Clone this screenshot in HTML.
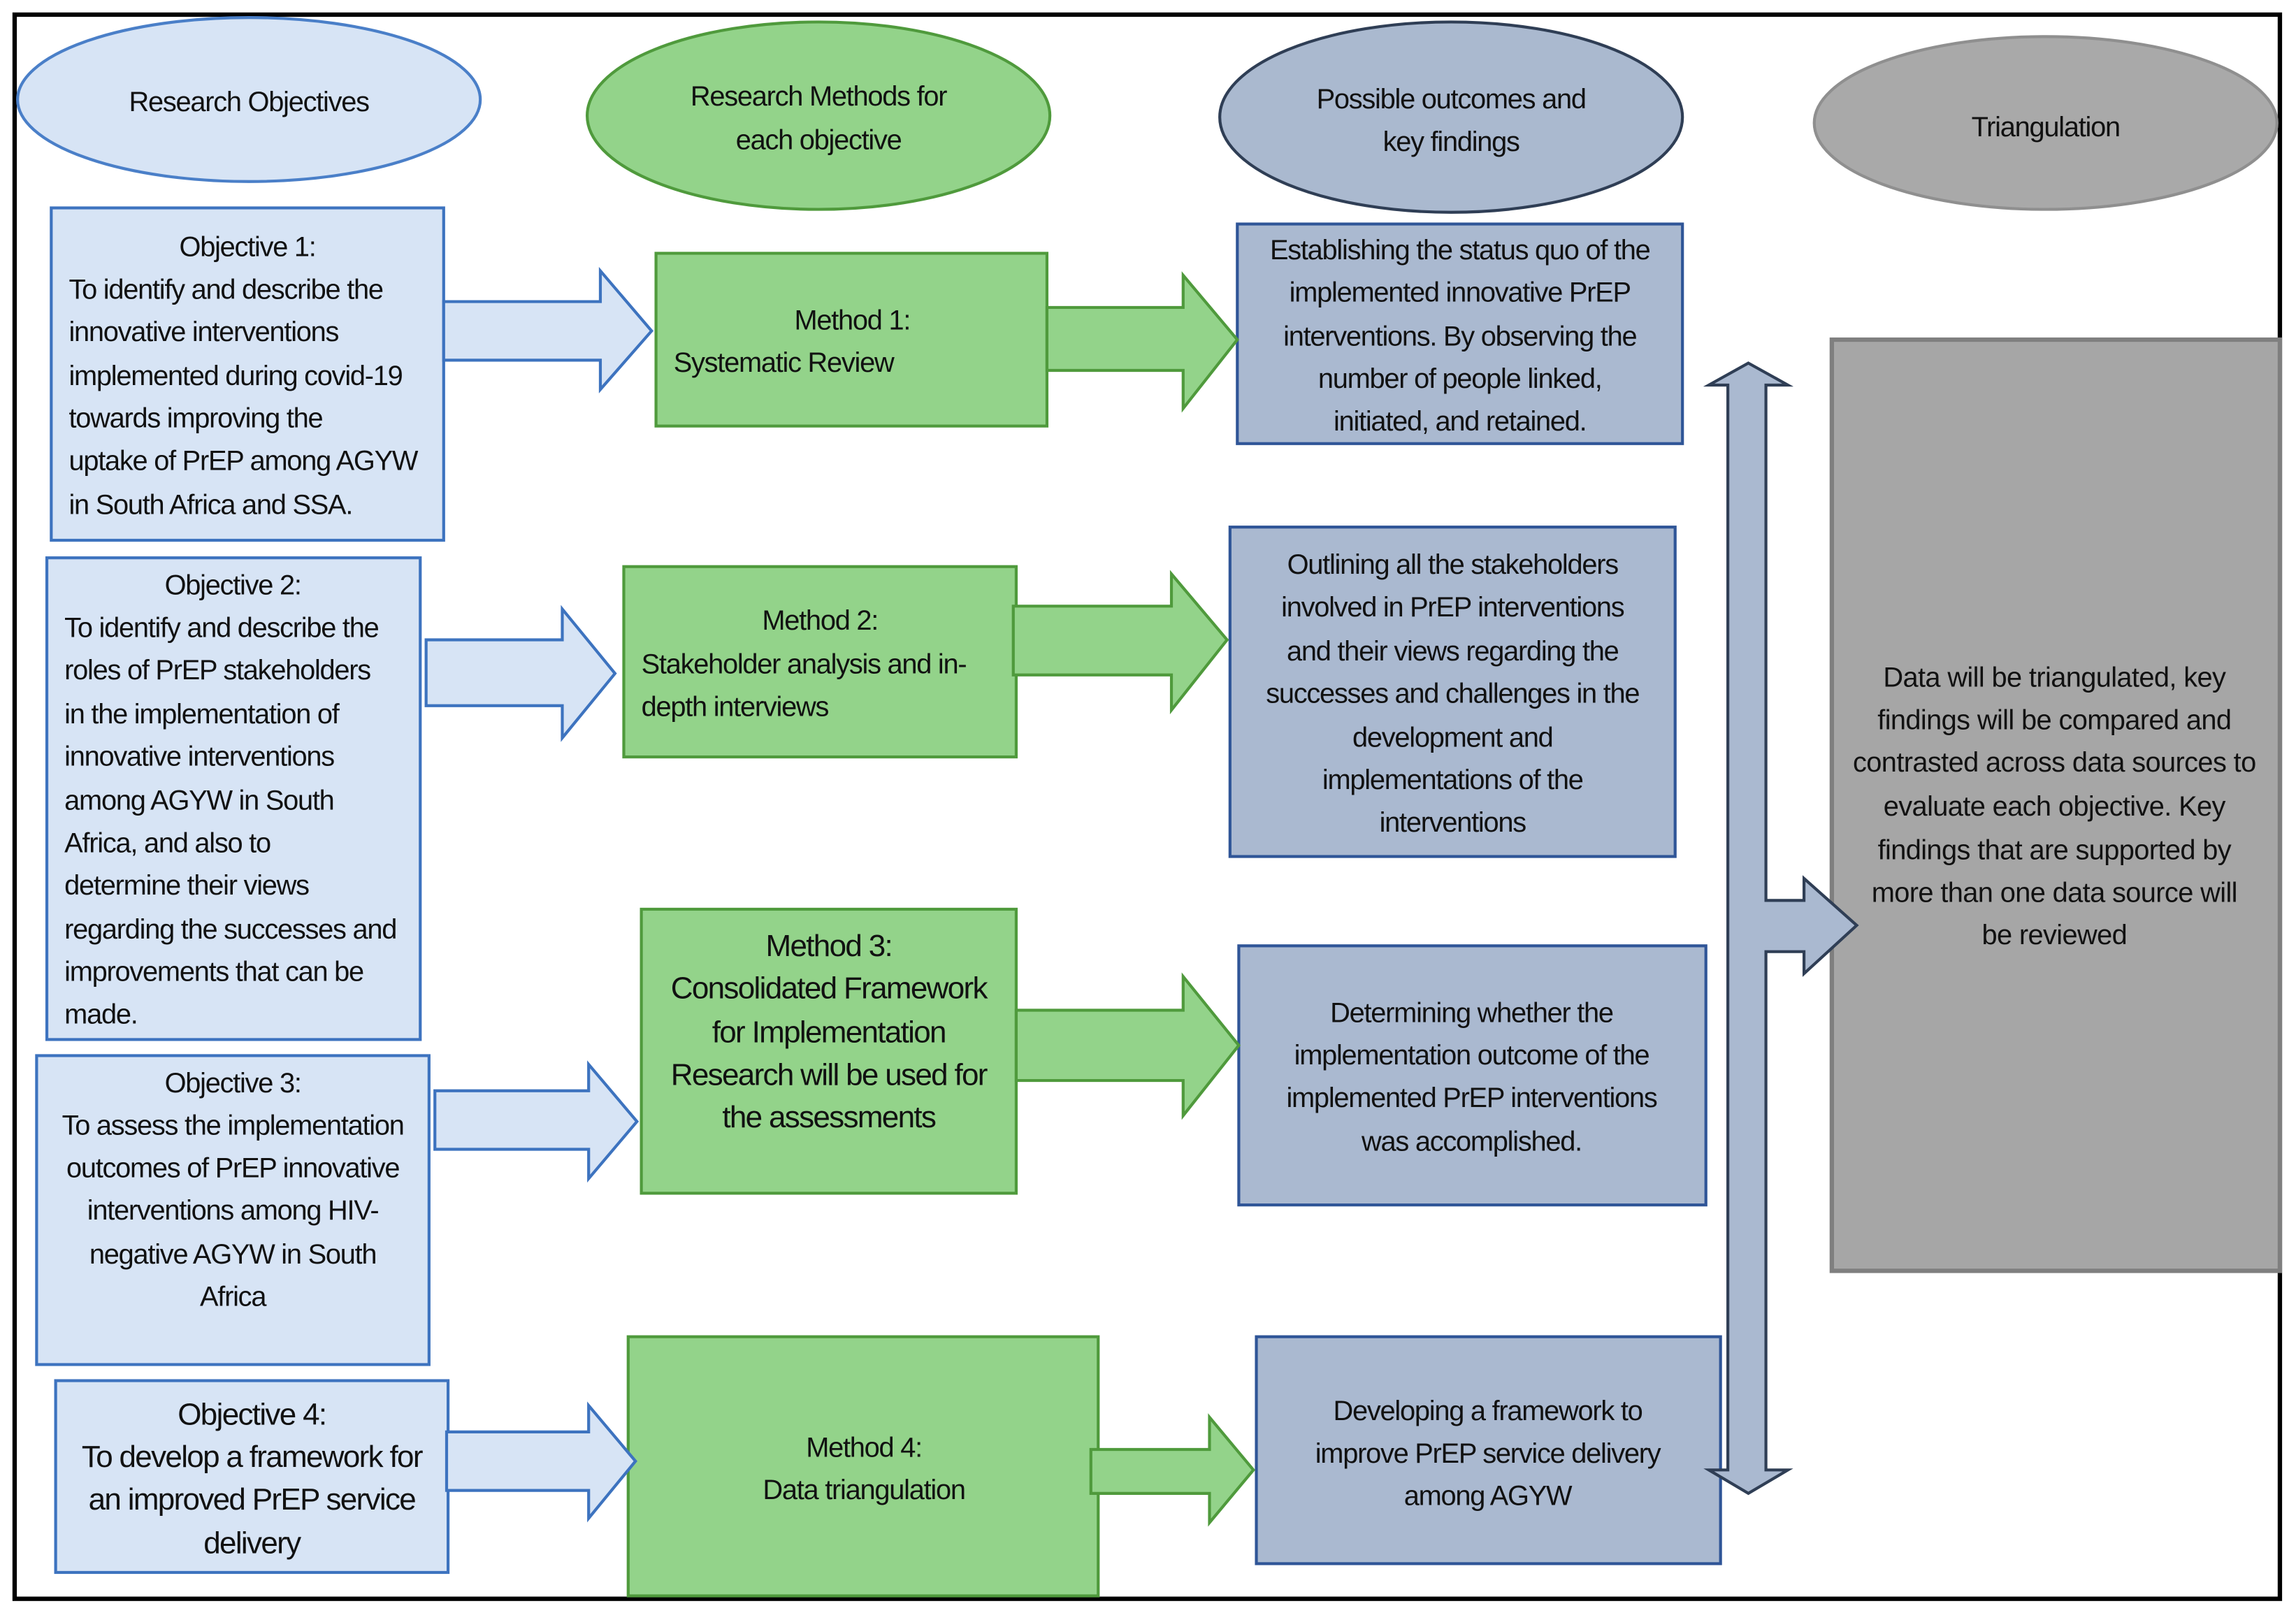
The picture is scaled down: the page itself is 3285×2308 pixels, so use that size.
<!DOCTYPE html>
<html><head><meta charset="utf-8"><style>
html,body{margin:0;padding:0;background:#fff}
svg{display:block}
text{font-family:"Liberation Sans Narrow","Liberation Sans",sans-serif;font-size:19px;fill:#111;letter-spacing:-0.6px}
.c{text-anchor:middle}
.b{font-size:21px;letter-spacing:-0.8px}
.t{letter-spacing:-0.3px}
</style></head><body>
<svg width="3285" height="2308" viewBox="0 0 1568 1101.7" preserveAspectRatio="none" xmlns="http://www.w3.org/2000/svg">
<rect x="0" y="0" width="1568" height="1102" fill="#fff"/>
<rect x="10" y="10" width="1547" height="1082" fill="none" stroke="#000" stroke-width="3"/>
<!-- ellipses -->
<ellipse cx="170" cy="68" rx="158" ry="56" fill="#d7e4f5" stroke="#4a7fc8" stroke-width="2"/>
<ellipse cx="559" cy="79" rx="158" ry="64" fill="#93d38a" stroke="#4f9a3c" stroke-width="2"/>
<ellipse cx="991" cy="80" rx="158" ry="65" fill="#aab9cf" stroke="#2f3e55" stroke-width="2"/>
<ellipse cx="1397" cy="84" rx="158" ry="59" fill="#a9a9a9" stroke="#8f8f8f" stroke-width="2"/>
<!-- objective boxes -->
<g fill="#d7e4f5" stroke="#3d73bf" stroke-width="2">
<rect x="35" y="142" width="268" height="227"/>
<rect x="32" y="381" width="255" height="329"/>
<rect x="25" y="721" width="268" height="211"/>
<rect x="38" y="943" width="268" height="131"/>
</g>
<!-- method boxes -->
<g fill="#93d38a" stroke="#4f9a3c" stroke-width="2">
<rect x="448" y="173" width="267" height="118"/>
<rect x="426" y="387" width="268" height="130"/>
<rect x="438" y="621" width="256" height="194"/>
<rect x="429" y="913" width="321" height="177"/>
</g>
<!-- outcome boxes -->
<g fill="#aab9d0" stroke="#2f5597" stroke-width="2">
<rect x="845" y="153" width="304" height="150"/>
<rect x="840" y="360" width="304" height="225"/>
<rect x="846" y="646" width="319" height="177"/>
<rect x="858" y="913" width="317" height="155"/>
</g>
<rect x="1251" y="232" width="306" height="636" fill="#a6a6a6" stroke="#7f7f7f" stroke-width="3"/>
<!-- blue arrows -->
<g fill="#d7e4f5" stroke="#3d73bf" stroke-width="2">
<polygon points="303,206 410,206 410,185 445,226 410,266 410,246 303,246"/>
<polygon points="291,437 384,437 384,416 420,460 384,504 384,482 291,482"/>
<polygon points="297,745 402,745 402,727 435,766 402,805 402,785 297,785"/>
<polygon points="305,978 402,978 402,960 434,998 402,1037 402,1018 305,1018"/>
</g>
<!-- green arrows -->
<g fill="#93d38a" stroke="#4f9a3c" stroke-width="2">
<polygon points="715,210 808,210 808,188 845,232 808,279 808,253 715,253"/>
<polygon points="692,414 800,414 800,392 838,437 800,485 800,461 692,461"/>
<polygon points="694,690 808,690 808,667 846,714 808,762 808,738 694,738"/>
<polygon points="745,990 826,990 826,968 856,1004 826,1040 826,1020 745,1020"/>
</g>
<!-- vertical double arrow with branch -->
<polygon fill="#aab9d0" stroke="#2f3e55" stroke-width="2" points="1194,248 1221,263 1206,263 1206,615 1232,615 1232,600 1268,632 1232,665 1232,650 1206,650 1206,1004 1221,1004 1194,1020 1167,1004 1180,1004 1180,263 1167,263"/>
<!-- ellipse labels -->
<text class="c" x="170" y="76">Research Objectives</text>
<text class="c" x="559" y="72">Research Methods for</text>
<text class="c" x="559" y="102">each objective</text>
<text class="c" x="991" y="74">Possible outcomes and</text>
<text class="c" x="991" y="103">key findings</text>
<text class="c" x="1397" y="93">Triangulation</text>
<!-- obj1 -->
<text class="c" x="169" y="175">Objective 1:</text>
<text x="47" y="204">To identify and describe the</text>
<text x="47" y="233">innovative interventions</text>
<text x="47" y="263">implemented during covid-19</text>
<text x="47" y="292">towards improving the</text>
<text x="47" y="321">uptake of PrEP among AGYW</text>
<text x="47" y="351">in South Africa and SSA.</text>
<!-- obj2 -->
<text class="c" x="159" y="406">Objective 2:</text>
<text x="44" y="435">To identify and describe the</text>
<text x="44" y="464">roles of  PrEP stakeholders</text>
<text x="44" y="494">in the implementation of</text>
<text x="44" y="523">innovative interventions</text>
<text x="44" y="553">among AGYW in South</text>
<text x="44" y="582">Africa, and also to</text>
<text x="44" y="611">determine their views</text>
<text x="44" y="641">regarding the successes and</text>
<text x="44" y="670">improvements that can be</text>
<text x="44" y="699">made.</text>
<!-- obj3 -->
<text class="c" x="159" y="746">Objective 3:</text>
<text class="c" x="159" y="775">To assess the implementation</text>
<text class="c" x="159" y="804">outcomes of PrEP innovative</text>
<text class="c" x="159" y="833">interventions among HIV-</text>
<text class="c" x="159" y="863">negative AGYW in South</text>
<text class="c" x="159" y="892">Africa</text>
<!-- obj4 -->
<text class="c b" x="172" y="973">Objective 4:</text>
<text class="c b" x="172" y="1002">To develop a framework for</text>
<text class="c b" x="172" y="1031">an improved PrEP service</text>
<text class="c b" x="172" y="1061">delivery</text>
<!-- methods -->
<text class="c" x="582" y="225">Method 1:</text>
<text x="460" y="254">Systematic Review</text>
<text class="c" x="560" y="430">Method 2:</text>
<text x="438" y="460">Stakeholder analysis and in-</text>
<text x="438" y="489">depth interviews</text>
<text class="c b" x="566" y="653">Method 3:</text>
<text class="c b" x="566" y="682">Consolidated Framework</text>
<text class="c b" x="566" y="712">for Implementation</text>
<text class="c b" x="566" y="741">Research will be used for</text>
<text class="c b" x="566" y="770">the assessments</text>
<text class="c" x="590" y="995">Method 4:</text>
<text class="c" x="590" y="1024">Data triangulation</text>
<!-- outcomes -->
<text class="c" x="997" y="177">Establishing the status quo of the</text>
<text class="c" x="997" y="206">implemented innovative PrEP</text>
<text class="c" x="997" y="236">interventions. By observing the</text>
<text class="c" x="997" y="265">number of people linked,</text>
<text class="c" x="997" y="294">initiated, and retained.</text>
<text class="c" x="992" y="392">Outlining all the stakeholders</text>
<text class="c" x="992" y="421">involved in PrEP interventions</text>
<text class="c" x="992" y="451">and their views regarding the</text>
<text class="c" x="992" y="480">successes and challenges in the</text>
<text class="c" x="992" y="510">development and</text>
<text class="c" x="992" y="539">implementations of the</text>
<text class="c" x="992" y="568">interventions</text>
<text class="c" x="1005" y="698">Determining whether the</text>
<text class="c" x="1005" y="727">implementation outcome of the</text>
<text class="c" x="1005" y="756">implemented PrEP interventions</text>
<text class="c" x="1005" y="786">was accomplished.</text>
<text class="c" x="1016" y="970">Developing a framework to</text>
<text class="c" x="1016" y="999">improve PrEP service delivery</text>
<text class="c" x="1016" y="1028">among AGYW</text>
<!-- triangulation text -->
<text class="c t" x="1403" y="469">Data will be triangulated, key</text>
<text class="c t" x="1403" y="498">findings will be compared and</text>
<text class="c t" x="1403" y="527">contrasted across data sources to</text>
<text class="c t" x="1403" y="557">evaluate each objective. Key</text>
<text class="c t" x="1403" y="587">findings that are supported by</text>
<text class="c t" x="1403" y="616">more than one data source will</text>
<text class="c t" x="1403" y="645">be reviewed</text>
</svg>
</body></html>
